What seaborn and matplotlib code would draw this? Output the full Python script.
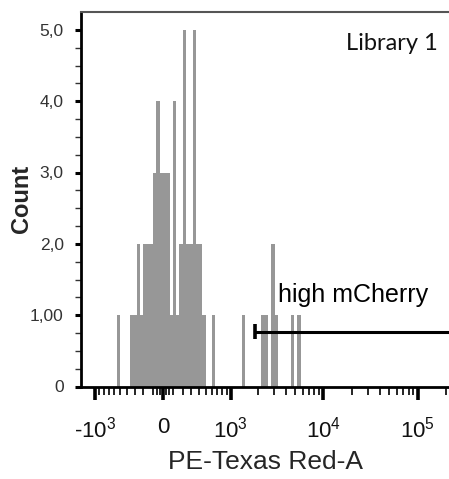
import numpy as np
import pandas as pd
import matplotlib
matplotlib.use("Agg")
import matplotlib.pyplot as plt
import seaborn as sns
from matplotlib.ticker import FixedLocator, NullFormatter

sns.set_style("ticks")
plt.rcParams['font.family'] = ['Liberation Sans', 'DejaVu Sans']
plt.rcParams['mathtext.fontset'] = 'custom'
plt.rcParams['mathtext.rm'] = 'Liberation Sans'
plt.rcParams['mathtext.it'] = 'Liberation Sans'

# ---- data ----
intensity = [-521, -334, -293, -255, -218, -182, -147, -113, -81, -48, -16,
             16, 48, 81, 113, 147, 182, 218, 255, 293, 334, 377, 422, 470,
             633, 1392, 2277, 2470, 2903, 3147, 4706, 5525]
counts = [1, 1, 1, 2, 1, 2, 2, 2, 3, 4, 3,
          3, 3, 1, 4, 1, 2, 5, 2, 2, 5, 2, 2, 1,
          1, 1, 1, 1, 2, 1, 1, 1]

xtick_major = [-1000, 0, 1000, 10000, 100000]
xtick_labels = [r'-$10^{3}$', '0', r'$10^{3}$', r'$10^{4}$', r'$10^{5}$']
xtick_minor = ([-900, -800, -700, -600, -500, -400, -300, -200, -100,
                -60, -30, 30, 60,
                100, 200, 300, 400, 500, 600, 700, 800, 900]
               + [2000, 3000, 4000, 5000, 6000, 7000, 8000, 9000]
               + [20000, 30000, 40000, 50000, 60000, 70000, 80000, 90000, 200000])
ytick_major = [0, 1, 2, 3, 4, 5]
ytick_labels = ['0', '1,00', '2,0', '3,0', '4,0', '5,0']

gate_x = [1850, 214000]
gate_y = 0.77
gate_label = "high mCherry"
gate_label_pos = (3300, 1.28)
panel_title = "Library 1"

LIN_W = 400
x_range = (-1451, 214000)
y_range = (0, 5.25)

# ---- figure ----
fig = plt.figure(figsize=(4.49, 4.79), dpi=100)
ax = fig.add_axes([81/449, 1-386.5/479, 1-81/449, (386.5-12)/479])

u_edges = np.arange(-2.0, 7.0 + 1e-9, 0.08)
bin_edges = list(LIN_W * np.sinh(u_edges))

df = pd.DataFrame({"PE-Texas Red-A": intensity, "w": counts})
sns.histplot(data=df, x="PE-Texas Red-A", weights="w", bins=bin_edges, ax=ax,
             color='#979797', alpha=1.0, edgecolor='none', linewidth=0)

ax.set_xscale('asinh', linear_width=LIN_W)

# gate
ax.plot(gate_x, [gate_y, gate_y], color='black', lw=2.2, solid_capstyle='butt', clip_on=False)
ax.plot([gate_x[0], gate_x[0]], [gate_y - 0.11, gate_y + 0.11], color='black', lw=2.6,
        solid_capstyle='butt')
ax.text(gate_label_pos[0], gate_label_pos[1], gate_label, fontsize=18, color='black',
        ha='left', va='center')
ax.text(0.97, 0.917, panel_title, transform=ax.transAxes, fontsize=17,
        family=['Lato', 'DejaVu Sans'], ha='right', va='center', color='#111')

ax.set_xlim(*x_range)
ax.set_ylim(*y_range)

ax.xaxis.set_major_locator(FixedLocator(xtick_major))
ax.set_xticklabels(xtick_labels)
ax.xaxis.set_minor_locator(FixedLocator(xtick_minor))
ax.xaxis.set_minor_formatter(NullFormatter())
ax.yaxis.set_major_locator(FixedLocator(ytick_major))
ax.set_yticklabels(ytick_labels)
ax.yaxis.set_minor_locator(FixedLocator(list(np.arange(0.25, 5.25, 0.25))))
ax.yaxis.set_minor_formatter(NullFormatter())

ax.tick_params(axis='x', which='major', length=9, width=2.6, direction='out',
               labelsize=16, pad=13, color='black', labelcolor='#111')
ax.tick_params(axis='x', which='minor', length=5.5, width=1.2, direction='out', color='black')
ax.tick_params(axis='y', which='major', length=4.5, width=2.2, direction='out',
               labelsize=12.5, pad=8, color='black', labelcolor='#333')
ax.tick_params(axis='y', which='minor', length=4, width=1.0, direction='out', color='#333')

for s in ['left', 'bottom']:
    ax.spines[s].set_color('black')
    ax.spines[s].set_linewidth(2)
ax.spines['top'].set_color('#555555')
ax.spines['top'].set_linewidth(1.5)
ax.spines['right'].set_visible(False)

ax.set_xlabel("PE-Texas Red-A", fontsize=19, labelpad=5)
ax.set_ylabel("Count", fontsize=17, fontweight='bold')
ax.yaxis.set_label_coords(-0.13, 0.5)

fig.savefig("out.png", dpi=100)
